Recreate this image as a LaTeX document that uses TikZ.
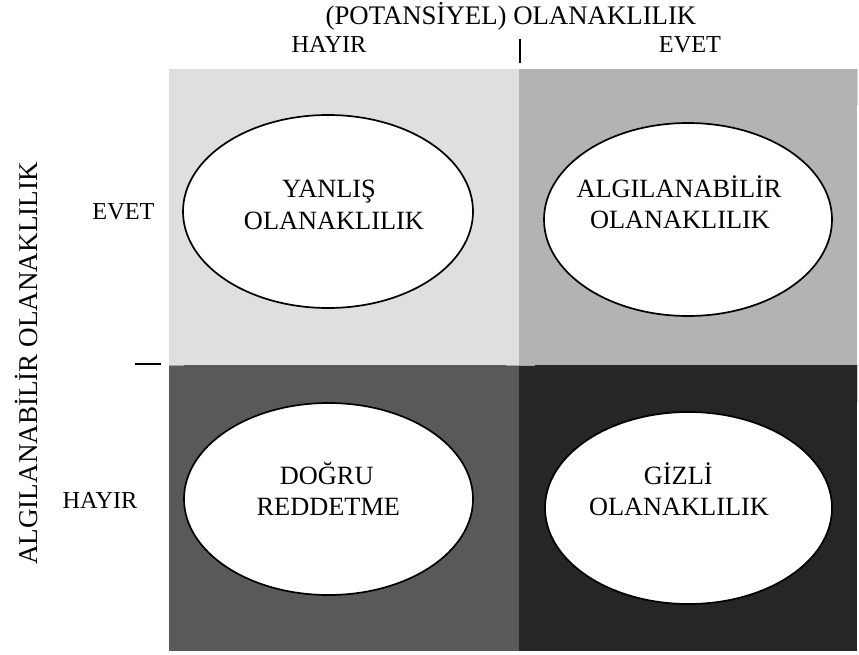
\documentclass[tikz,border=0pt]{standalone}
\usepackage{fontspec}
\setmainfont{Liberation Serif}
\usetikzlibrary{shapes.geometric}
\definecolor{qone}{HTML}{DFDFDF}
\definecolor{qtwo}{HTML}{B3B3B3}
\definecolor{qthree}{HTML}{595959}
\definecolor{qfour}{HTML}{262626}
\definecolor{seam}{HTML}{D0D0D0}
\begin{document}
\begin{tikzpicture}[x=1pt,y=-1pt,
  oval/.style={ellipse, draw=black, line width=1.7pt, fill=white, inner sep=0pt},
  big/.style={font=\fontsize{26.35}{31}\selectfont, inner sep=0pt, anchor=base},
  head/.style={font=\fontsize{26.8}{31}\selectfont, inner sep=0pt, anchor=base},
  small/.style={font=\fontsize{24.3}{28}\selectfont, inner sep=0pt, anchor=base},
  tickline/.style={line width=2.2pt}]
\useasboundingbox (0,0) rectangle (859,655);

% four cells of the matrix
\fill[qone]   (169,69)  rectangle (519,365);
\fill[qtwo]   (519,69)  rectangle (857,365);
\fill[qthree] (169,365) rectangle (519,651);
\fill[qfour]  (519,365) rectangle (857,651);

% thin seams on the right edge and along the middle line
\draw[seam, line width=1pt] (857.5,69) -- (857.5,105);
\draw[seam, line width=1pt] (857.5,365) -- (857.5,402);
\draw[black!35, line width=1pt] (169,365.5) -- (184,365.5);
\draw[black!35, line width=1pt] (506,365.5) -- (535,365.5);

% axis headings
\node[head] (title) at (511,25) {(POTANSİYEL) OLANAKLILIK};
\node[small] (colno)  at (329,53) {HAYIR};
\node[small] (colyes) at (690,53) {EVET};
\node[head, font=\fontsize{27.1}{31}\selectfont, rotate=90] (yaxis) at (37,363.5) {ALGILANABİLİR OLANAKLILIK};
\node[small] (rowyes) at (123.5,219) {EVET};
\node[small] (rowno)  at (100,508) {HAYIR};

% tick marks between the categories
\coordinate (ttop) at (520,39);
\coordinate (tbot) at (520,63);
\draw[tickline] (ttop) -- (tbot);
\coordinate (lleft) at (135,364);
\coordinate (lright) at (161,364);
\draw[tickline] (lleft) -- (lright);

% the four outcomes
\node[oval, minimum width=290pt, minimum height=193pt] (tl) at (328,211.5) {};
\node[oval, minimum width=288pt, minimum height=193pt] (tr) at (688,219.5) {};
\node[oval, minimum width=289pt, minimum height=192pt] (bl) at (328.5,499) {};
\node[oval, minimum width=287pt, minimum height=192pt] (br) at (688.5,508) {};

\node[big] (tla) at (329,197) {YANLIŞ};
\node[big] (tlb) at (334,229.5) {OLANAKLILIK};
\node[big] (tra) at (679,197.7) {ALGILANABİLİR};
\node[big] (trb) at (680,228) {OLANAKLILIK};
\node[big] (bla) at (326.7,484.3) {DOĞRU};
\node[big] (blb) at (328.3,515.7) {REDDETME};
\node[big] (bra) at (678.3,484) {GİZLİ};
\node[big] (brb) at (679,515.7) {OLANAKLILIK};
\end{tikzpicture}
\end{document}
